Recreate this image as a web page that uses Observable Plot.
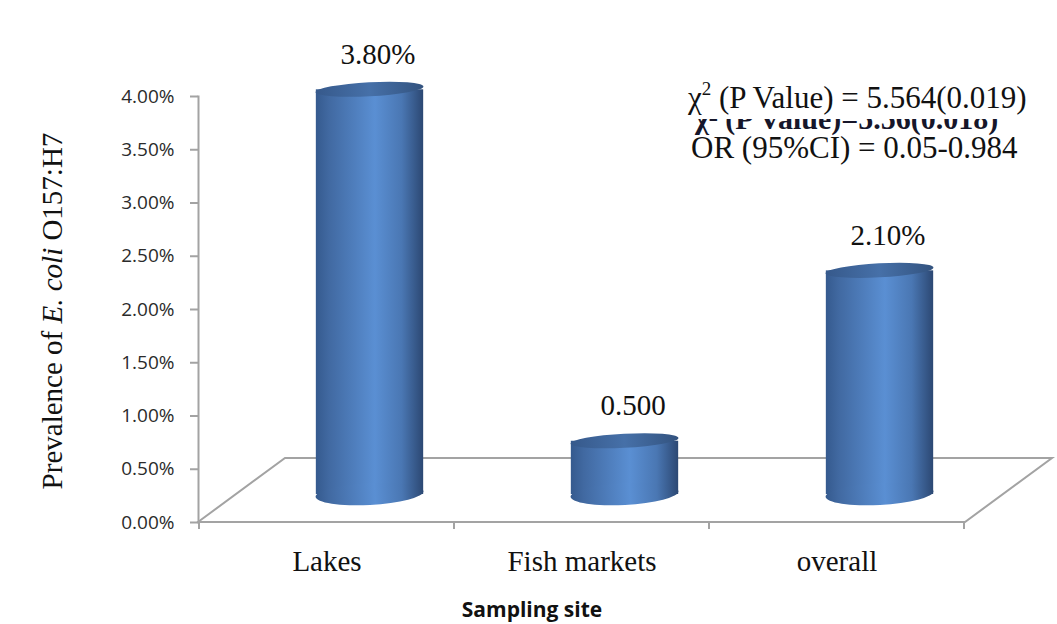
<!DOCTYPE html>
<html><head><meta charset="utf-8">
<script src="https://cdn.jsdelivr.net/npm/d3@7"></script>
<script src="https://cdn.jsdelivr.net/npm/@observablehq/plot@0.6"></script>
<style>body{margin:0;background:#fff} #chart svg{display:block}</style>
</head><body><div id="chart"></div>
<script>
// ---- data ----
const sites = ["Lakes", "Fish markets", "overall"];
const prevalence = [0.038, 0.005, 0.021];
const valueLabels = ["3.80%", "0.500", "2.10%"];
const yTicks = [0, 0.005, 0.01, 0.015, 0.02, 0.025, 0.03, 0.035, 0.04];
const statLine1 = ["χ", "2", " (P Value) = 5.564(0.019)"];
const statLine2 = "OR (95%CI) = 0.05-0.984";
const hiddenStat = "χ² (P Value)=5.56(0.018)";
const yTitle = ["Prevalence of ", "E. coli", " O157:H7"];
const xTitle = "Sampling site";

const data = sites.map((s, i) => ({site: s, value: prevalence[i], label: valueLabels[i]}));

// ---- style constants ----
const DEPTH_X = 87, DEPTH_Y = -64;   // 3D floor depth
const BAR_DX = 43, BAR_DY = -28, BAR_W = 108, TILT = -3;
const GRID = "#a3a3a3";
const SERIF = "'Liberation Serif', 'Times New Roman', serif";
const SANS = "'Open Sans', 'DejaVu Sans', sans-serif";

const bwOf = (x) => typeof x.bandwidth === "function" ? x.bandwidth() : x.bandwidth;

const defs = () => {
  const d = d3.create("svg:defs");
  const g1 = d.append("linearGradient").attr("id", "cylBody").attr("x1", 0).attr("x2", 1).attr("y1", 0).attr("y2", 0);
  [[0, "#355a8e"], [0.12, "#4169a1"], [0.55, "#5a8fd3"], [0.8, "#4a77b3"], [1, "#2c4873"]]
    .forEach(([o, c]) => g1.append("stop").attr("offset", o).attr("stop-color", c));
  const g2 = d.append("linearGradient").attr("id", "cylTop").attr("x1", 0).attr("x2", 1).attr("y1", 0).attr("y2", 0);
  [[0, "#36598b"], [0.5, "#4670a8"], [1, "#33537f"]]
    .forEach(([o, c]) => g2.append("stop").attr("offset", o).attr("stop-color", c));
  return d.node();
};

const floor = (index, scales, values, dims) => {
  const {x, y} = scales;
  const x0 = dims.marginLeft, x1 = dims.width - dims.marginRight, y0 = y(0);
  const g = d3.create("svg:g").attr("fill", "none").attr("stroke", GRID).attr("stroke-width", 2);
  g.append("path").attr("d",
    `M${x0},${y0}L${x0 + DEPTH_X},${y0 + DEPTH_Y}L${x1 + DEPTH_X},${y0 + DEPTH_Y}L${x1},${y0}Z`);
  const bw = bwOf(x);
  const edges = sites.map(s => x(s)).concat([x(sites[sites.length - 1]) + bw]);
  edges.forEach(e => g.append("line").attr("x1", e).attr("x2", e).attr("y1", y0).attr("y2", y0 + 7));
  return g.node();
};

const cylinderEnds = (index, scales) => {
  const {x, y} = scales;
  const bw = bwOf(x);
  const g = d3.create("svg:g");
  data.forEach(d => {
    const cx = x(d.site) + bw / 2 + BAR_DX;
    const yb = y(0) + BAR_DY, yt = y(d.value) + BAR_DY;
    g.append("ellipse").attr("cx", cx).attr("cy", yb).attr("rx", BAR_W / 2).attr("ry", 11)
      .attr("fill", "url(#cylBody)").attr("transform", `rotate(${TILT} ${cx} ${yb})`);
    g.append("ellipse").attr("cx", cx).attr("cy", yt).attr("rx", BAR_W / 2).attr("ry", 7)
      .attr("fill", "url(#cylTop)").attr("transform", `rotate(${TILT} ${cx} ${yt})`);
  });
  return g.node();
};

const yTitleMark = (index, scales, values, dims) => {
  const cy = (dims.marginTop + dims.height - dims.marginBottom) / 2 + 2;
  const t = d3.create("svg:text").attr("transform", `translate(62,${cy}) rotate(-90)`)
    .attr("text-anchor", "middle").attr("font-family", SERIF).attr("font-size", 29).attr("fill", "#111");
  yTitle.forEach((s, i) => t.append("tspan").text(s).attr("font-style", i === 1 ? "italic" : "normal"));
  return t.node();
};

const statsMark = () => {
  const g = d3.create("svg:g").attr("font-family", SERIF).attr("fill", "#111").attr("text-anchor", "start");
  g.append("text").attr("x", 695).attr("y", 129).attr("font-size", 30).attr("font-weight", "bold")
    .attr("fill", "#16162a").text(hiddenStat);
  g.append("rect").attr("x", 680).attr("y", 70).attr("width", 377).attr("height", 49).attr("fill", "#fff");
  const t1 = g.append("text").attr("x", 688).attr("y", 108).attr("font-size", 31);
  t1.append("tspan").text(statLine1[0]);
  t1.append("tspan").text(statLine1[1]).attr("font-size", 19).attr("dy", -13);
  t1.append("tspan").text(statLine1[2]).attr("dy", 13);
  g.append("text").attr("x", 691).attr("y", 158).attr("font-size", 31).text(statLine2);
  return g.node();
};

const chart = Plot.plot({
  width: 1057, height: 624,
  marginLeft: 198, marginRight: 92, marginTop: 96, marginBottom: 102,
  x: {type: "band", domain: sites, padding: 0},
  y: {domain: [0, 0.04]},
  style: {background: "#fff"},
  marks: [
    defs,
    floor,
    Plot.frame({anchor: "left", stroke: GRID, strokeWidth: 2}),
    Plot.axisY({ticks: yTicks, tickFormat: d3.format(".2%"), tickSize: 8, tickPadding: 16,
      stroke: GRID, strokeWidth: 2, strokeOpacity: 1, fill: "#2b2b2b", fontSize: 19, fontFamily: SANS, label: null}),
    Plot.axisX({tickSize: 0, tickPadding: 28, fontSize: 29, fontFamily: SERIF, fill: "#111", label: null}),
    Plot.barY(data, {x: "site", y: "value", fill: "url(#cylBody)",
      insetLeft: (767 / 3 - BAR_W) / 2, insetRight: (767 / 3 - BAR_W) / 2, dx: BAR_DX, dy: BAR_DY}),
    cylinderEnds,
    Plot.text(data, {x: "site", y: "value", text: "label", dx: BAR_DX + 8, dy: BAR_DY - 26,
      lineAnchor: "bottom", fontSize: 29, fontFamily: SERIF, fill: "#111"}),
    yTitleMark,
    statsMark,
    Plot.text([xTitle], {frameAnchor: "bottom", dx: -50, dy: 94, lineAnchor: "bottom",
      fontSize: 21, fontWeight: "bold", fontFamily: SANS, fill: "#111"})
  ]
});
document.getElementById("chart").appendChild(chart);
</script>
</body></html>
